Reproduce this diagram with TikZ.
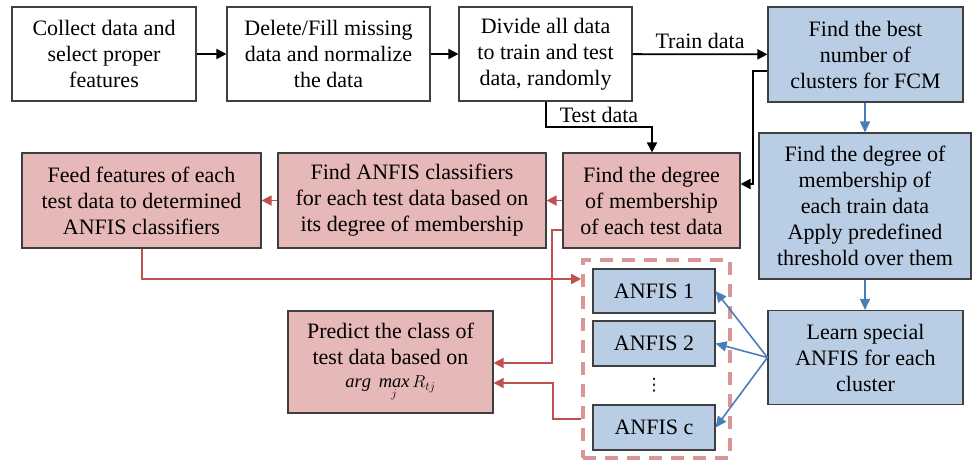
\documentclass[tikz,border=0pt]{standalone}
\usepackage{fontspec}
\setmainfont{Liberation Serif}
\newfontfamily\symfont{DejaVu Sans}
\usetikzlibrary{arrows.meta,positioning}

\definecolor{boxline}{HTML}{3F3F3F}
\definecolor{redfill}{HTML}{E6B8B7}
\definecolor{bluefill}{HTML}{B9CDE5}
\definecolor{redline}{HTML}{C0504D}
\definecolor{blueline}{HTML}{4A7EBB}
\definecolor{dashline}{HTML}{D99694}

\tikzset{
  stage/.style={draw=boxline, line width=1.1pt, align=center, inner sep=0pt,
    font=\fontsize{22}{26}\selectfont},
  whitebox/.style={stage, fill=white},
  redbox/.style={stage, fill=redfill},
  bluebox/.style={stage, fill=bluefill},
  tip/.style={-{Triangle[length=10pt,width=10pt]}},
  blackflow/.style={tip, line width=1.8pt, draw=black},
  redflow/.style={tip, line width=1.6pt, draw=redline},
  blueflow/.style={-{Triangle[length=11pt,width=10pt]}, line width=1.6pt, draw=blueline},
  lbl/.style={font=\fontsize{22}{25}\selectfont, inner sep=0pt}
}

\begin{document}
\begin{tikzpicture}[x=1pt,y=-1pt]
\useasboundingbox (0,0) rectangle (973,460);

% top row
\node[whitebox, minimum width=184pt, minimum height=94pt] (collect) at (104,54)
  {Collect data and\\select proper\\features};
\node[whitebox, minimum width=203pt, minimum height=94pt] (clean) at (328.5,54)
  {Delete/Fill missing\\data and normalize\\the data};
\node[whitebox, minimum width=173pt, minimum height=94pt] (split) at (545.5,54)
  {Divide all data\\to train and test\\data, randomly};
\node[bluebox, minimum width=195pt, minimum height=95pt] (bestc) at (865.5,54.5)
  {Find the best\\number of\\clusters for FCM};

% right column
\node[bluebox, minimum width=212pt, minimum height=146pt] (trainmem) at (865,206)
  {Find the degree of\\membership of\\each train data\\Apply predefined\\threshold over them};
\node[bluebox, minimum width=195pt, minimum height=94pt] (learn) at (865.5,357.5)
  {Learn special\\ANFIS for each\\cluster};

% middle row
\node[redbox, minimum width=177pt, minimum height=95pt] (testmem) at (651.5,200.5)
  {Find the degree\\of membership\\of each test data};
\node[redbox, minimum width=268pt, minimum height=95pt] (findanfis) at (412,200.5)
  {Find ANFIS classifiers\\for each test data based on\\its degree of membership};
\node[redbox, minimum width=239pt, minimum height=95pt] (feed) at (141.5,200.5)
  {Feed features of each\\test data to determined\\ANFIS classifiers};

% prediction
\node[redbox, minimum width=205pt, minimum height=102pt] (predict) at (390.5,362)
  {Predict the class of\\test data based on\\[-3pt]{\fontsize{18.5}{20}\selectfont$\mathit{arg}\;\mathop{\mathit{max}}\limits_{j} R_{tj}$}};

% classifier bank
\node[draw=dashline, line width=3.6pt, dash pattern=on 13pt off 9pt,
  minimum width=147pt, minimum height=198pt, inner sep=0pt] (bank) at (656.5,359) {};
\node[bluebox, minimum width=122pt, minimum height=44pt] (anf1) at (654,291) {ANFIS 1};
\node[bluebox, minimum width=122pt, minimum height=45pt] (anf2) at (654,343.5) {ANFIS 2};
\node[font=\symfont\fontsize{17}{17}\selectfont, inner sep=0pt] (dots) at (654,385) {⋮};
\node[bluebox, minimum width=122pt, minimum height=45pt] (anfc) at (654,427.5) {ANFIS c};

% flow along the top
\draw[blackflow] (collect) -- (clean);
\draw[blackflow] (clean) -- (split);
\draw[blackflow] (split) -- node[lbl, above=5pt] {Train data} (bestc);
\draw[blackflow] (split.south -| 546,0) |- (652,127) node[lbl, above=3pt, pos=0.75] {Test data}
  -- (testmem.north -| 652,0);
\draw[blackflow] (bestc.west |- 0,71) -| (753,184) -- (testmem.east |- 0,184);

% flow down the right column
\draw[blueflow] (bestc.south -| 865,0) -- (trainmem.north -| 865,0);
\draw[blueflow] (trainmem.south -| 865,0) -- (learn.north -| 865,0);
\draw[blueflow] (learn.west) -- (anf1.east);
\draw[blueflow] (learn.west) -- (anf2.east);
\draw[blueflow] (learn.west) -- (anfc.east);

% test-data flow
\draw[redflow] (testmem) -- (findanfis);
\draw[redflow] (findanfis) -- (feed);
\draw[redflow] (feed.south -| 142,0) |- (bank.west |- 0,279);
\draw[redflow] (testmem.west |- 0,230) -| (552,363) -- (predict.east |- 0,363);
\draw[redflow] (bank.west |- 0,419) -| (553,383) -- (predict.east |- 0,383);
\end{tikzpicture}
\end{document}
